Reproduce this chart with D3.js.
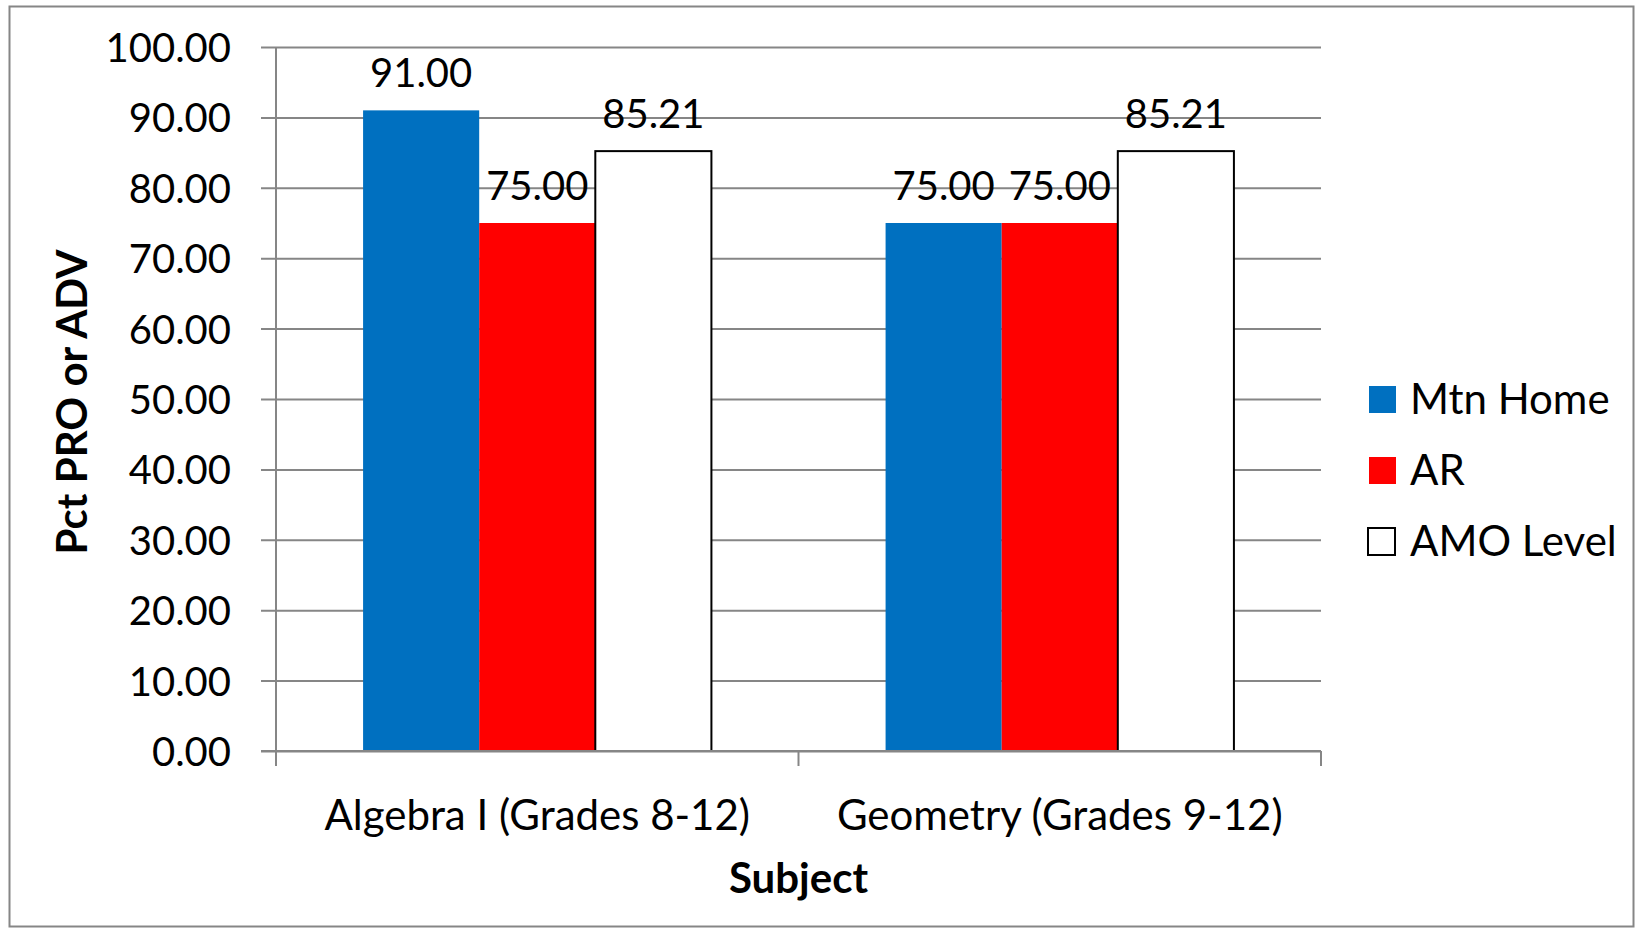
<!DOCTYPE html>
<html>
<head>
<meta charset="utf-8">
<script src="https://cdn.jsdelivr.net/npm/d3@7/dist/d3.min.js"></script>
<style>
  html, body { margin: 0; padding: 0; background: #fff; }
  svg { display: block; }
  text { font-family: Lato, "Open Sans", sans-serif; fill: #000; }
</style>
</head>
<body>
<svg id="chart" width="1638" height="930"></svg>
<script>
const categories = ["Algebra I (Grades 8-12)", "Geometry (Grades 9-12)"];
const seriesNames = ["Mtn Home", "AR", "AMO Level"];
const mtnHome = [91.00, 75.00];
const ar = [75.00, 75.00];
const amoLevel = [85.21, 85.21];
const yTicks = [0, 10, 20, 30, 40, 50, 60, 70, 80, 90, 100];
const colors = ["#0070C0", "#FF0000", "#FFFFFF"];
const seriesValues = [mtnHome, ar, amoLevel];

const svg = d3.select("#chart");
const plot = { left: 276, right: 1321, top: 47, bottom: 751 };
const fsNum = 40;
const fsText = 42;

// outer border
svg.append("rect").attr("x", 9.5).attr("y", 6.5).attr("width", 1624).attr("height", 920)
  .attr("fill", "#fff").attr("stroke", "#868686").attr("stroke-width", 2);

const y = d3.scaleLinear().domain([0, 100]).range([plot.bottom, plot.top]);
const x0 = d3.scaleBand().domain(categories).range([plot.left, plot.right]).padding(0);
const x1 = d3.scaleBand().domain(seriesNames).range([0, x0.bandwidth()])
  .paddingInner(0).paddingOuter(0.75);

// gridlines + y ticks
const yAxis = d3.axisLeft(y).tickValues(yTicks).tickSize(-(plot.right - plot.left))
  .tickSizeOuter(0).tickPadding(0).tickFormat(d => d3.format(".2f")(d));
const gy = svg.append("g").attr("transform", `translate(${plot.left},0)`).call(yAxis);
gy.select(".domain").remove();
gy.selectAll(".tick line").attr("x1", -15).attr("stroke", "#868686").attr("stroke-width", 2);
gy.selectAll(".tick text").attr("x", -45).attr("dy", "0.36em")
  .style("font-size", fsNum + "px").style("font-family", "Lato, sans-serif").attr("fill", "#000");

// y axis line
svg.append("line").attr("x1", plot.left).attr("x2", plot.left)
  .attr("y1", plot.top).attr("y2", plot.bottom + 15)
  .attr("stroke", "#868686").attr("stroke-width", 2);

// bars
const groups = svg.append("g").selectAll("g").data(categories).join("g")
  .attr("transform", d => `translate(${x0(d)},0)`);
groups.selectAll("rect").data((c, ci) => seriesNames.map((s, si) => ({ s, si, v: seriesValues[si][ci] })))
  .join("rect")
  .attr("x", d => x1(d.s))
  .attr("y", d => y(d.v))
  .attr("width", x1.bandwidth())
  .attr("height", d => y(0) - y(d.v))
  .attr("fill", d => colors[d.si])
  .attr("stroke", d => d.si === 2 ? "#000" : "none")
  .attr("stroke-width", 2);

// x axis line + ticks
const xAxisLine = svg.append("g");
xAxisLine.append("line").attr("x1", plot.left - 15).attr("x2", plot.right)
  .attr("y1", plot.bottom).attr("y2", plot.bottom).attr("stroke", "#868686").attr("stroke-width", 2);
const bounds = [plot.left, ...categories.map(c => x0(c) + x0.bandwidth())];
xAxisLine.selectAll("line.t").data(bounds).join("line").attr("class", "t")
  .attr("x1", d => d).attr("x2", d => d).attr("y1", plot.bottom).attr("y2", plot.bottom + 15)
  .attr("stroke", "#868686").attr("stroke-width", 2);

// category labels
svg.append("g").selectAll("text").data(categories).join("text")
  .attr("x", d => x0(d) + x0.bandwidth() / 2).attr("y", 830)
  .attr("text-anchor", "middle").style("font-size", fsText + "px").text(d => d);

// data labels
groups.selectAll("text").data((c, ci) => seriesNames.map((s, si) => ({ s, si, v: seriesValues[si][ci] })))
  .join("text")
  .attr("x", d => x1(d.s) + x1.bandwidth() / 2)
  .attr("y", d => y(d.v) - 23)
  .attr("text-anchor", "middle").style("font-size", fsNum + "px")
  .text(d => d3.format(".2f")(d.v));

// axis titles
svg.append("text").attr("transform", "translate(87,402) rotate(-90)")
  .attr("text-anchor", "middle").style("font-size", fsText + "px").style("font-weight", "bold")
  .text("Pct PRO or ADV");
svg.append("text").attr("x", (plot.left + plot.right) / 2).attr("y", 893)
  .attr("text-anchor", "middle").style("font-size", fsText + "px").style("font-weight", "bold")
  .text("Subject");

// legend
const lg = svg.append("g").selectAll("g").data(seriesNames).join("g")
  .attr("transform", (d, i) => `translate(1369,${386 + i * 71})`);
lg.append("rect").attr("x", (d, i) => i === 2 ? -1 : 0).attr("y", 0).attr("width", 27).attr("height", 27)
  .attr("fill", (d, i) => colors[i]).attr("stroke", (d, i) => i === 2 ? "#000" : "none").attr("stroke-width", 2);
lg.append("text").attr("x", 41).attr("y", 28).style("font-size", fsText + "px").text(d => d);
</script>
</body>
</html>
